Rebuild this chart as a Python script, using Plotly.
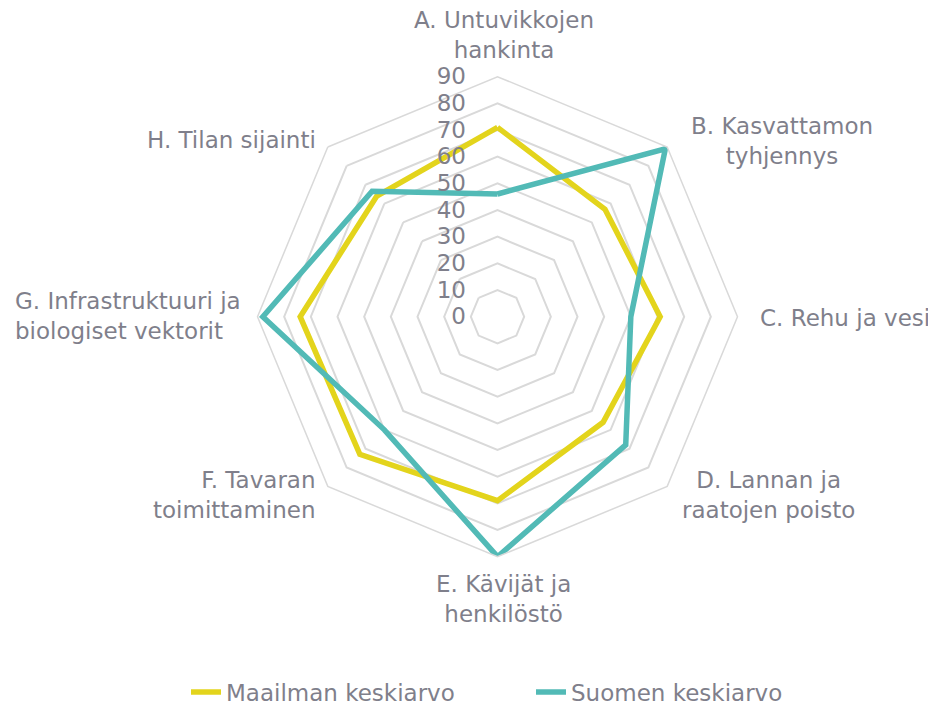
import plotly.graph_objects as go

categories = [
    "A. Untuvikkojen<br>hankinta",
    "B. Kasvattamon<br>tyhjennys",
    "C. Rehu ja vesi",
    "D. Lannan ja<br>raatojen poisto",
    "E. Kävijät ja<br>henkilöstö",
    "F. Tavaran<br>toimittaminen",
    "G. Infrastruktuuri ja<br>biologiset vektorit",
    "H. Tilan sijainti",
]
maailman = [71, 57, 61, 56, 69, 73, 74, 64]
suomen = [46, 89, 50, 68, 90, 60, 88, 66.5]
series_names = ["Maailman keskiarvo", "Suomen keskiarvo"]
radial_ticks = [0, 10, 20, 30, 40, 50, 60, 70, 80, 90]

YELLOW = "#E3D41C"
TEAL = "#52BAB6"
GRID = "#D9D9D9"
TEXT = "#7F7F8B"
FONT = "DejaVu Sans"
FS = 23

W, H = 928, 696  # the page adds an 8px body margin

# category label placement (pixel position in figure, anchors, alignment)
label_layout = [
    (496, 27, "center", "middle", "center"),
    (774, 133, "center", "middle", "center"),
    (750, 310, "left", "middle", "left"),
    (760, 487, "center", "middle", "center"),
    (496, 591, "center", "middle", "center"),
    (310, 487, "right", "middle", "right"),
    (5, 308, "left", "middle", "left"),
    (310, 132, "right", "middle", "right"),
]

fig = go.Figure()
for name, vals, col in [(series_names[0], maailman, YELLOW), (series_names[1], suomen, TEAL)]:
    fig.add_trace(go.Scatterpolar(
        r=vals + vals[:1],
        theta=categories + categories[:1],
        mode="lines",
        name=name,
        line=dict(color=col, width=5.5),
    ))

annotations = []
for text, (px, py, xa, ya, al) in zip(categories, label_layout):
    annotations.append(dict(
        text=text, x=px / W, y=(H - py) / H, xref="paper", yref="paper",
        xanchor=xa, yanchor=ya, align=al, showarrow=False,
        font=dict(family=FONT, size=FS, color=TEXT),
    ))

fig.update_layout(
    width=W,
    height=H,
    margin=dict(l=0, r=0, t=0, b=0, autoexpand=False),
    paper_bgcolor="white",
    plot_bgcolor="white",
    font=dict(family=FONT, size=FS, color=TEXT),
    showlegend=True,
    annotations=annotations,
    legend=dict(
        orientation="h",
        x=523 / W,
        xanchor="center",
        y=(H - 684) / H,
        yanchor="middle",
        entrywidth=300,
        font=dict(family=FONT, size=FS, color=TEXT),
    ),
    polar=dict(
        domain=dict(x=[249.5 / W, 729.5 / W], y=[(H - 548.7) / H, (H - 68.7) / H]),
        bgcolor="white",
        gridshape="linear",
        radialaxis=dict(
            range=[0, 90],
            tickvals=radial_ticks,
            angle=90,
            side="counterclockwise",
            showline=False,
            showgrid=True,
            gridcolor=GRID,
            gridwidth=1.5,
            ticks="outside",
            ticklen=23,
            tickcolor="rgba(0,0,0,0)",
            tickfont=dict(family=FONT, size=FS, color=TEXT),
            tickangle=90,
        ),
        angularaxis=dict(
            direction="clockwise",
            rotation=90,
            showgrid=False,
            showline=True,
            linecolor=GRID,
            linewidth=1.5,
            showticklabels=False,
            ticks="",
        ),
    ),
)

fig.write_html("out.html")
